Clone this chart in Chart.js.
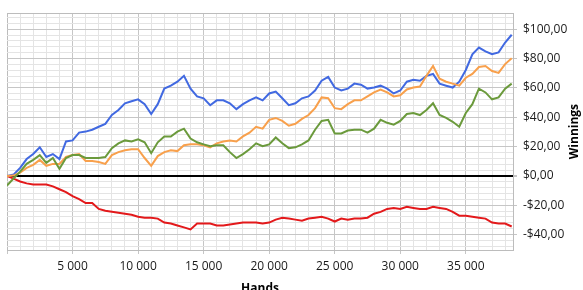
<!DOCTYPE html>
<html>
<head>
<meta charset="utf-8">
<title>Winnings</title>
<script src="https://cdn.jsdelivr.net/npm/chart.js@4/dist/chart.umd.min.js"></script>
<style>
  html, body { margin: 0; padding: 0; background: #fff; }
  #wrap { width: 583px; height: 290px; }
</style>
</head>
<body>
<div id="wrap"><canvas id="chart" width="583" height="290"></canvas></div>
<script>
// hands played (x values shared by all series)
const hands = [
  0, 500, 1000, 1500, 2000, 2500, 3000, 3500, 4000, 4500,
  5000, 5500, 6000, 6500, 7000, 7500, 8000, 8500, 9000, 9500,
  10000, 10500, 11000, 11500, 12000, 12500, 13000, 13500, 14000, 14500,
  15000, 15500, 16000, 16500, 17000, 17500, 18000, 18500, 19000, 19500,
  20000, 20500, 21000, 21500, 22000, 22500, 23000, 23500, 24000, 24500,
  25000, 25500, 26000, 26500, 27000, 27500, 28000, 28500, 29000, 29500,
  30000, 30500, 31000, 31500, 32000, 32500, 33000, 33500, 34000, 34500,
  35000, 35500, 36000, 36500, 37000, 37500, 38000, 38500
];

// winnings in $ per series
const blueWins = [
  0, 0.9, 5.5, 11.5, 14.9, 19.5, 12.9, 14.9, 11.5, 23.5,
  24.2, 29.5, 30.2, 31.5, 33.5, 35.5, 41.5, 44.9, 49.5, 50.9,
  52.2, 48.9, 42.2, 48.9, 59.5, 61.5, 64.2, 68.2, 59.5, 54.2,
  52.9, 48.2, 51.5, 51.5, 49.5, 45.5, 48.9, 51.5, 53.5, 51.5,
  56.2, 57.5, 52.9, 48.2, 49.5, 52.9, 54.2, 58.2, 64.9, 67.5,
  60.2, 58.2, 59.5, 62.9, 62.2, 59.5, 60.2, 61.5, 59.5, 56.2,
  58.2, 64.2, 65.5, 64.9, 68.2, 69.5, 62.9, 61.5, 60.2, 64.2,
  72.2, 82.9, 87.5, 84.9, 82.9, 84.2, 90.9, 96.2
];
const orangeWins = [
  0, 0.2, 2.2, 5.5, 7.5, 10.9, 6.9, 8.2, 8.2, 12.9,
  14.2, 14.9, 10.2, 10.2, 9.5, 8.2, 14.2, 16.2, 17.5, 18.2,
  18.2, 12.2, 6.9, 13.5, 16.2, 17.5, 16.9, 20.9, 21.5, 21.5,
  20.9, 19.5, 22.2, 23.5, 24.2, 23.5, 26.9, 29.5, 33.5, 32.2,
  38.2, 39.5, 37.5, 34.2, 35.5, 38.9, 41.5, 46.2, 53.5, 52.9,
  46.2, 45.5, 48.9, 51.5, 51.5, 54.2, 56.9, 58.9, 56.9, 54.2,
  54.9, 58.9, 60.2, 60.9, 68.2, 74.9, 66.2, 64.2, 62.9, 61.5,
  66.9, 69.5, 74.2, 74.9, 71.5, 70.2, 76.2, 80.2
];
const greenWins = [
  -6.5, -1.8, 2.9, 8.2, 10.9, 14.2, 8.9, 12.2, 4.9, 12.2,
  14.2, 14.2, 12.2, 12.2, 12.2, 12.9, 18.9, 22.2, 24.2, 23.5,
  24.9, 22.9, 15.5, 22.9, 26.9, 26.9, 30.2, 32.2, 25.5, 22.9,
  21.5, 20.2, 20.9, 20.9, 16.2, 12.2, 14.9, 18.2, 22.2, 20.2,
  21.5, 26.2, 22.2, 18.9, 19.5, 21.5, 24.2, 31.5, 37.5, 38.2,
  28.9, 28.9, 30.9, 31.5, 31.5, 29.5, 32.2, 38.2, 36.2, 34.9,
  37.5, 42.2, 42.9, 41.5, 44.9, 49.5, 41.5, 39.5, 36.9, 33.5,
  42.9, 48.9, 59.5, 56.9, 52.2, 53.5, 59.5, 62.9
];
const redWins = [
  0, -1.8, -3.8, -5.1, -5.8, -5.8, -5.8, -7.1, -9.1, -11.1,
  -13.8, -15.8, -18.5, -18.5, -22.5, -23.8, -24.5, -25.1, -25.8, -26.5,
  -27.8, -28.5, -28.5, -29.1, -31.8, -32.5, -33.8, -35.1, -36.5, -32.5,
  -32.5, -32.5, -33.8, -33.8, -33.1, -32.5, -31.8, -31.8, -31.8, -32.5,
  -31.8, -29.8, -28.5, -29.1, -29.8, -30.5, -29.1, -28.5, -27.8, -29.1,
  -31.1, -29.1, -29.8, -29.1, -29.1, -28.5, -25.8, -24.5, -22.5, -21.8,
  -22.5, -21.1, -21.8, -22.5, -22.5, -21.1, -21.8, -22.5, -24.5, -27.1,
  -27.1, -27.8, -28.5, -29.1, -31.8, -32.5, -32.5, -34.5
];

const xTitle = 'Hands';
const yTitle = 'Winnings';

// axis ranges and grid steps
const xMin = 0, xMax = 38600, xMinor = 1000, xMajor = 5000;
const yMin = -50.5, yMax = 110.9, yMinor = 4, yMajor = 20;

const minorGrid = '#e4e4e4';
const majorGrid = '#c6c6c6';
const edgeColor = '#bcbcbc';

const toPoints = (vals) => vals.map((v, i) => ({ x: hands[i], y: v }));

const fmtMoney = (v) => {
  const s = '$' + Math.abs(v).toFixed(2).replace('.', ',');
  return v < 0 ? '-' + s : s;
};
const fmtHands = (v) => Math.round(v / 1000) + ' 000';

const isMult = (v, m) => Math.abs(v / m - Math.round(v / m)) < 1e-9;

// grid ticks on round multiples, plus the two edges of the range
const stepTicks = (min, max, step) => {
  const out = [{ value: min }];
  for (let v = Math.ceil(min / step) * step; v < max; v += step) {
    if (v > min) out.push({ value: v });
  }
  out.push({ value: max });
  return out;
};

// axis titles: y title reads bottom-to-top on the right side
const axisTitles = {
  id: 'axisTitles',
  afterDraw(chart) {
    const { ctx, chartArea } = chart;
    ctx.save();
    ctx.fillStyle = '#000';
    ctx.font = "bold 12px 'Open Sans', sans-serif";
    ctx.textAlign = 'center';
    ctx.textBaseline = 'alphabetic';
    ctx.fillText(xTitle, (chartArea.left + chartArea.right) / 2, 292);
    ctx.translate(575, (chartArea.top + chartArea.bottom) / 2);
    ctx.rotate(-Math.PI / 2);
    ctx.textBaseline = 'middle';
    ctx.fillText(yTitle, 0, 0);
    ctx.restore();
  }
};

Chart.defaults.font.family = "'Open Sans', sans-serif";
Chart.defaults.font.size = 12;
Chart.defaults.color = '#1a1a1a';

const line = (data, color) => ({
  data: toPoints(data),
  borderColor: color,
  borderWidth: 2,
  pointRadius: 0,
  tension: 0,
  fill: false
});

new Chart(document.getElementById('chart'), {
  type: 'line',
  data: {
    datasets: [
      line(greenWins, '#6b9a3c'),
      line(orangeWins, '#f8a04c'),
      line(blueWins, '#4169e1'),
      line(redWins, '#e3191b')
    ]
  },
  options: {
    responsive: false,
    animation: false,
    layout: { padding: { left: 7, top: 8, right: 0, bottom: 0 } },
    plugins: { legend: { display: false }, tooltip: { enabled: false } },
    scales: {
      x: {
        type: 'linear',
        min: xMin,
        max: xMax,
        afterBuildTicks: (s) => { s.ticks = stepTicks(xMin, xMax, xMinor); },
        afterFit: (s) => { s.height = 40; },
        ticks: {
          autoSkip: false,
          maxRotation: 0,
          minRotation: 0,
          padding: 5,
          callback: (v) => (v > 0 && isMult(v, xMajor) ? fmtHands(v) : '')
        },
        grid: {
          tickLength: 4,
          color: (c) => {
            const v = c.tick ? c.tick.value : null;
            if (v === xMin || v === xMax) return edgeColor;
            return isMult(v, xMajor) ? majorGrid : minorGrid;
          },
          tickColor: (c) => (c.tick && isMult(c.tick.value, xMajor) ? majorGrid : 'rgba(0,0,0,0)')
        },
        border: { color: edgeColor }
      },
      y: {
        position: 'right',
        min: yMin,
        max: yMax,
        afterBuildTicks: (s) => { s.ticks = stepTicks(yMin, yMax, yMinor); },
        afterFit: (s) => { s.width = 70; },
        ticks: {
          autoSkip: false,
          padding: 6,
          callback: (v) => (isMult(v, yMajor) ? fmtMoney(v) : '')
        },
        grid: {
          tickLength: 4,
          color: (c) => {
            const v = c.tick ? c.tick.value : null;
            if (v === 0) return '#000';
            if (v === yMin || v === yMax) return edgeColor;
            return isMult(v, yMajor) ? majorGrid : minorGrid;
          },
          lineWidth: (c) => (c.tick && c.tick.value === 0 ? 2 : 1),
          tickColor: (c) => (c.tick && isMult(c.tick.value, yMajor) ? majorGrid : 'rgba(0,0,0,0)')
        },
        border: { color: edgeColor }
      }
    }
  },
  plugins: [axisTitles]
});
</script>
</body>
</html>
